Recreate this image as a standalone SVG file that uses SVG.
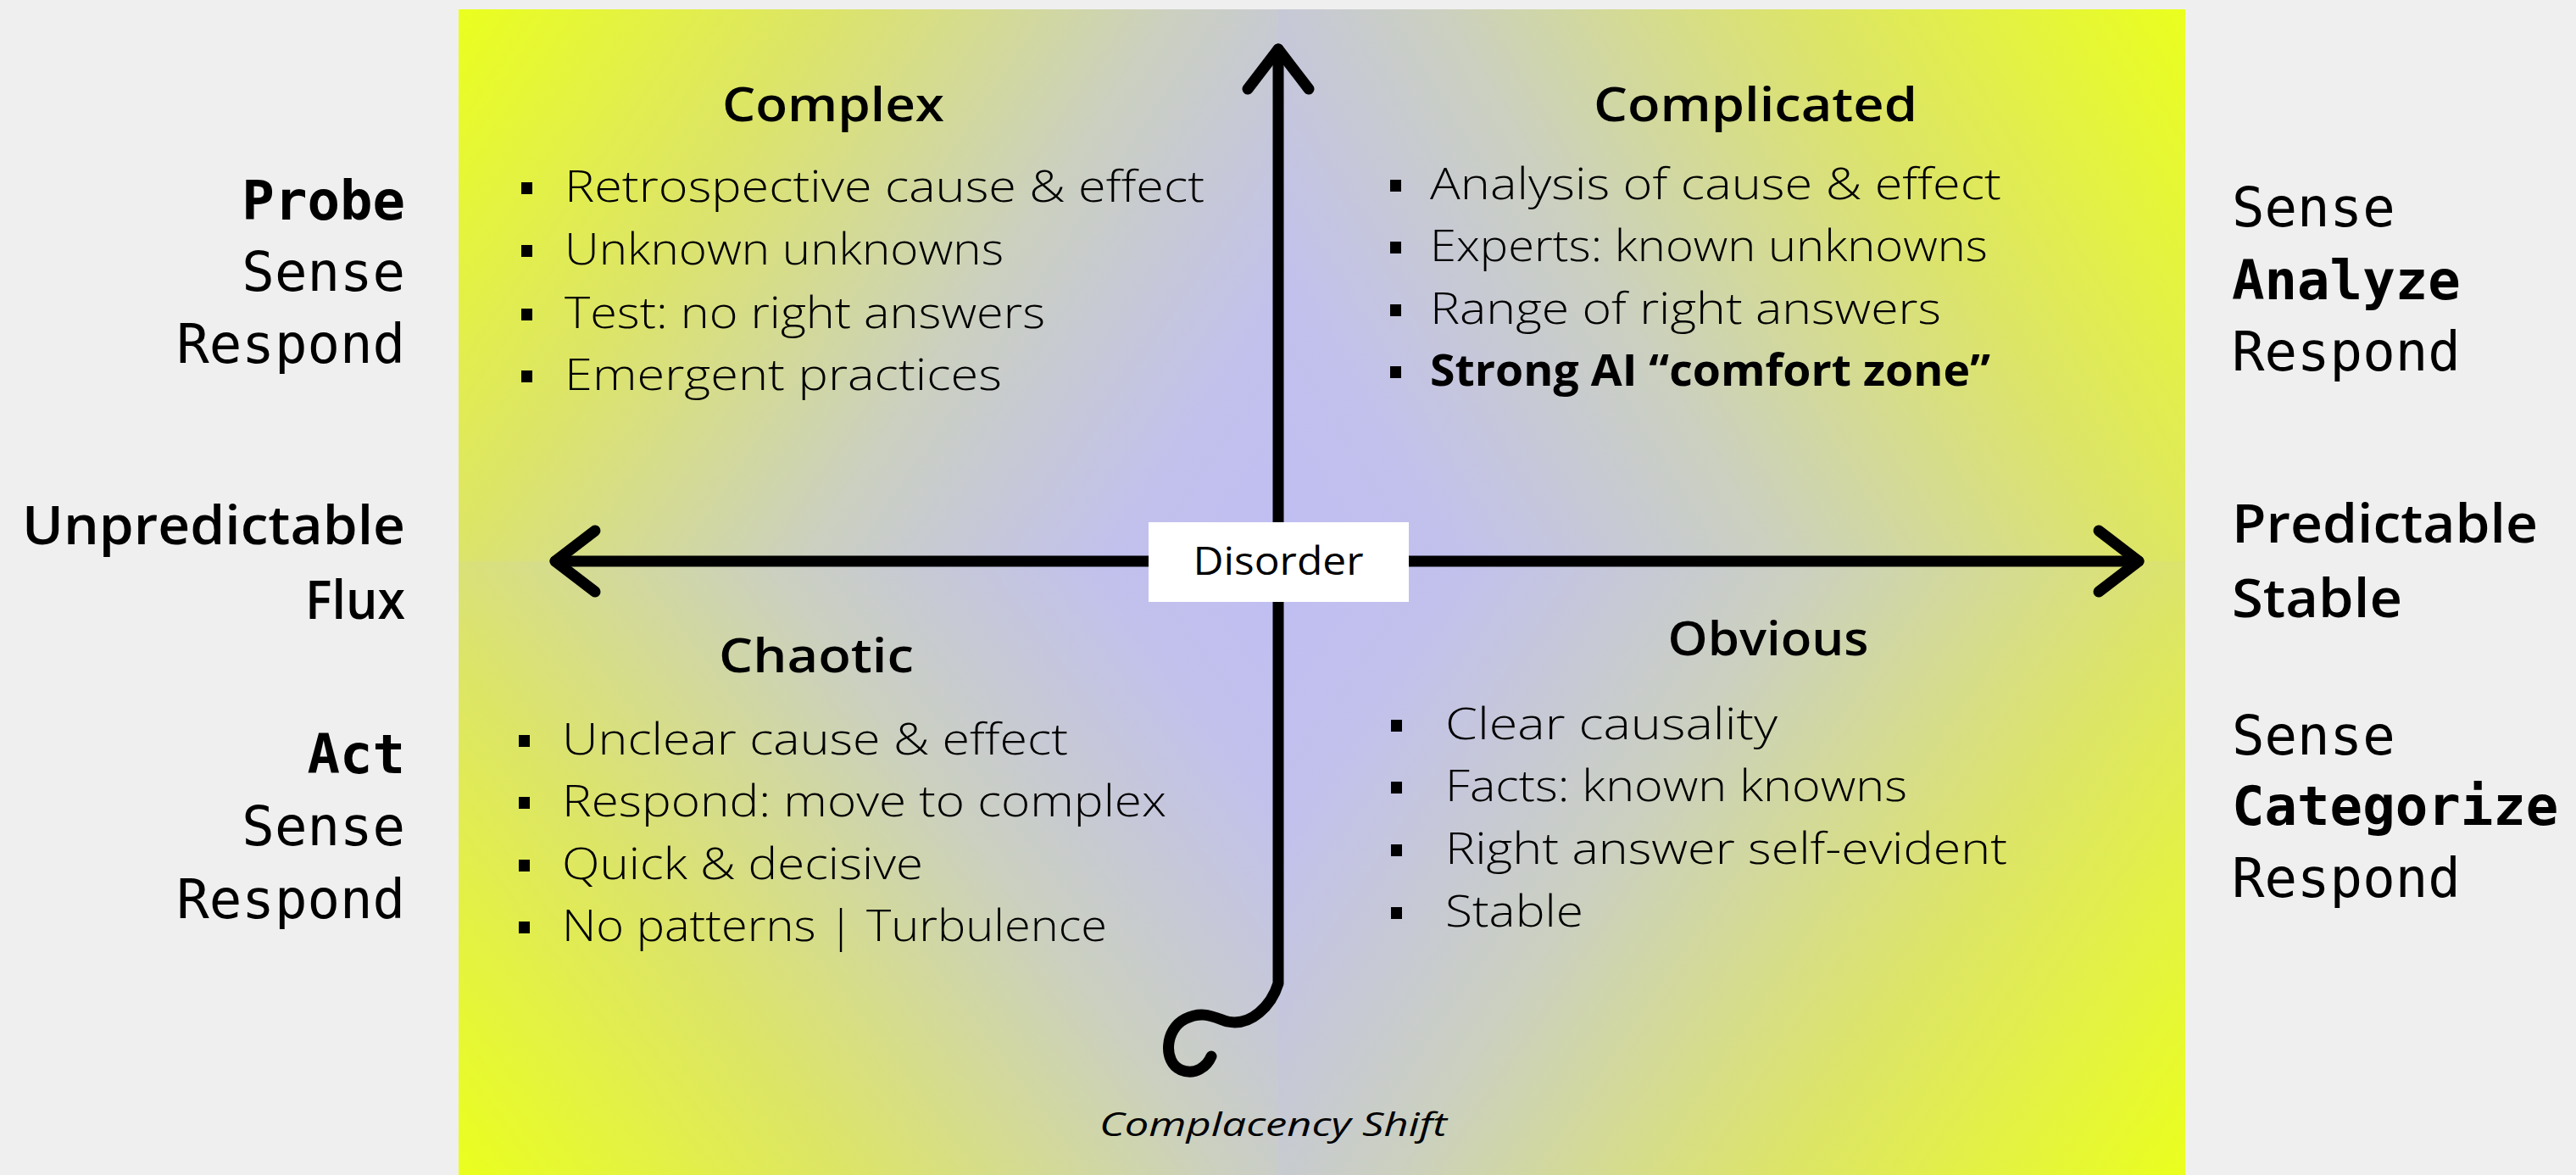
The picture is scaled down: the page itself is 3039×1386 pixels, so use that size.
<svg xmlns="http://www.w3.org/2000/svg" width="3039" height="1386" viewBox="0 0 3039 1386">
<style>
.body{font-family:"Open Sans","Noto Sans",sans-serif;font-weight:300;font-size:52px;fill:#000}
.strong{font-weight:700}
.head{font-family:"Open Sans","Noto Sans",sans-serif;font-weight:600;font-size:56px;fill:#000;text-anchor:middle}
.side{font-family:"Open Sans","Noto Sans",sans-serif;font-weight:600;font-size:63px;fill:#000}
.mono{font-family:"DejaVu Sans Mono","Liberation Mono",monospace;font-size:64px;fill:#000}
.monob{font-family:"DejaVu Sans Mono","Liberation Mono",monospace;font-size:64px;font-weight:700;fill:#000}
.end{text-anchor:end}
.bul{fill:#000}
.axis{fill:none;stroke:#000;stroke-width:13;stroke-linecap:round;stroke-linejoin:round}
</style>
<defs>
<linearGradient id="gTL" gradientUnits="userSpaceOnUse" x1="541" y1="11" x2="1508" y2="662">
<stop offset="0" stop-color="#eaff1e"/><stop offset="0.3" stop-color="#dde566"/><stop offset="0.6" stop-color="#cbd0c0"/><stop offset="0.85" stop-color="#c2c1ec"/><stop offset="1" stop-color="#c0bef2"/>
</linearGradient>
<linearGradient id="gTR" gradientUnits="userSpaceOnUse" x1="2578" y1="11" x2="1508" y2="662" href="#gTL"/>
<linearGradient id="gBL" gradientUnits="userSpaceOnUse" x1="541" y1="1386" x2="1508" y2="662" href="#gTL"/>
<linearGradient id="gBR" gradientUnits="userSpaceOnUse" x1="2578" y1="1386" x2="1508" y2="662" href="#gTL"/>
<marker id="chev" markerUnits="userSpaceOnUse" markerWidth="100" markerHeight="100" viewBox="-70 -50 100 100" refX="0" refY="0" orient="auto" overflow="visible">
<path d="M-47,-36 L0,0 L-47,36" fill="none" stroke="#000" stroke-width="13" stroke-linecap="round" stroke-linejoin="round"/>
</marker>
</defs>
<rect x="0" y="0" width="3039" height="1386" fill="#efefef"/>
<g id="panel">
<rect x="541" y="11" width="967" height="651" fill="url(#gTL)"/>
<rect x="1508" y="11" width="1070" height="651" fill="url(#gTR)"/>
<rect x="541" y="662" width="967" height="724" fill="url(#gBL)"/>
<rect x="1508" y="662" width="1070" height="724" fill="url(#gBR)"/>
</g>
<g id="connectors">
<path class="axis" d="M1508,662 L655,662" marker-end="url(#chev)"/>
<path class="axis" d="M1508,662 L2523,662" marker-end="url(#chev)"/>
<path class="axis" d="M1429,1246 C1424,1258 1410,1269 1393,1262 C1372,1253 1374,1214 1398,1202 C1418,1192 1430,1199 1448,1205 C1476,1211 1500,1186 1508,1160 L1508,58" marker-end="url(#chev)"/>
</g>
<g id="disorder">
<rect x="1355" y="616" width="307" height="94" fill="#fff"/>
<text class="body" x="1508" y="678" style="font-weight:500;font-size:46px;text-anchor:middle" textLength="201" lengthAdjust="spacingAndGlyphs">Disorder</text>
</g>
<g id="complex">
<text class="head" x="983" y="143" textLength="262" lengthAdjust="spacingAndGlyphs">Complex</text>
<rect class="bul" x="615" y="215" width="13" height="14"/>
<rect class="bul" x="615" y="289" width="13" height="14"/>
<rect class="bul" x="615" y="364" width="13" height="14"/>
<rect class="bul" x="615" y="437" width="13" height="14"/>
<text class="body" x="666" y="238" textLength="755" lengthAdjust="spacingAndGlyphs">Retrospective cause &amp; effect</text>
<text class="body" x="666" y="312" textLength="518" lengthAdjust="spacingAndGlyphs">Unknown unknowns</text>
<text class="body" x="666" y="387" textLength="567" lengthAdjust="spacingAndGlyphs">Test: no right answers</text>
<text class="body" x="666" y="460" textLength="516" lengthAdjust="spacingAndGlyphs">Emergent practices</text>
</g>
<g id="complicated">
<text class="head" x="2071" y="143" textLength="382" lengthAdjust="spacingAndGlyphs">Complicated</text>
<rect class="bul" x="1640" y="212" width="13" height="14"/>
<rect class="bul" x="1640" y="285" width="13" height="14"/>
<rect class="bul" x="1640" y="359" width="13" height="14"/>
<rect class="bul" x="1640" y="432" width="13" height="14"/>
<text class="body" x="1687" y="235" textLength="674" lengthAdjust="spacingAndGlyphs">Analysis of cause &amp; effect</text>
<text class="body" x="1687" y="308" textLength="658" lengthAdjust="spacingAndGlyphs">Experts: known unknowns</text>
<text class="body" x="1687" y="382" textLength="603" lengthAdjust="spacingAndGlyphs">Range of right answers</text>
<text class="body strong" x="1687" y="455" textLength="661" lengthAdjust="spacingAndGlyphs">Strong AI “comfort zone”</text>
</g>
<g id="chaotic">
<text class="head" x="963" y="793" textLength="230" lengthAdjust="spacingAndGlyphs">Chaotic</text>
<rect class="bul" x="612" y="867" width="13" height="14"/>
<rect class="bul" x="612" y="940" width="13" height="14"/>
<rect class="bul" x="612" y="1014" width="13" height="14"/>
<rect class="bul" x="612" y="1087" width="13" height="14"/>
<text class="body" x="663" y="890" textLength="597" lengthAdjust="spacingAndGlyphs">Unclear cause &amp; effect</text>
<text class="body" x="663" y="963" textLength="713" lengthAdjust="spacingAndGlyphs">Respond: move to complex</text>
<text class="body" x="663" y="1037" textLength="426" lengthAdjust="spacingAndGlyphs">Quick &amp; decisive</text>
<text class="body" x="663" y="1110" textLength="643" lengthAdjust="spacingAndGlyphs">No patterns | Turbulence</text>
</g>
<g id="obvious">
<text class="head" x="2086" y="773" textLength="237" lengthAdjust="spacingAndGlyphs">Obvious</text>
<rect class="bul" x="1641" y="849" width="13" height="14"/>
<rect class="bul" x="1641" y="922" width="13" height="14"/>
<rect class="bul" x="1641" y="996" width="13" height="14"/>
<rect class="bul" x="1641" y="1070" width="13" height="14"/>
<text class="body" x="1705" y="872" textLength="392" lengthAdjust="spacingAndGlyphs">Clear causality</text>
<text class="body" x="1705" y="945" textLength="545" lengthAdjust="spacingAndGlyphs">Facts: known knowns</text>
<text class="body" x="1705" y="1019" textLength="663" lengthAdjust="spacingAndGlyphs">Right answer self-evident</text>
<text class="body" x="1705" y="1093" textLength="163" lengthAdjust="spacingAndGlyphs">Stable</text>
</g>
<g id="complacency">
<text class="body" x="1502" y="1340" style="font-weight:500;font-style:italic;font-size:38px;text-anchor:middle" textLength="410" lengthAdjust="spacingAndGlyphs">Complacency Shift</text>
</g>
<g id="left-labels">
<text class="monob end" x="478" y="259">Probe</text>
<text class="mono end" x="478" y="343">Sense</text>
<text class="mono end" x="478" y="428">Respond</text>
<text class="side end" x="478" y="642" textLength="452" lengthAdjust="spacingAndGlyphs">Unpredictable</text>
<text class="side end" x="478" y="730" textLength="118" lengthAdjust="spacingAndGlyphs">Flux</text>
<text class="monob end" x="478" y="912">Act</text>
<text class="mono end" x="478" y="997">Sense</text>
<text class="mono end" x="478" y="1083">Respond</text>
</g>
<g id="right-labels">
<text class="mono" x="2633" y="267">Sense</text>
<text class="monob" x="2633" y="353">Analyze</text>
<text class="mono" x="2633" y="437">Respond</text>
<text class="side" x="2633" y="640" textLength="361" lengthAdjust="spacingAndGlyphs">Predictable</text>
<text class="side" x="2633" y="728" textLength="201" lengthAdjust="spacingAndGlyphs">Stable</text>
<text class="mono" x="2633" y="890">Sense</text>
<text class="monob" x="2633" y="973">Categorize</text>
<text class="mono" x="2633" y="1058">Respond</text>
</g>
</svg>
